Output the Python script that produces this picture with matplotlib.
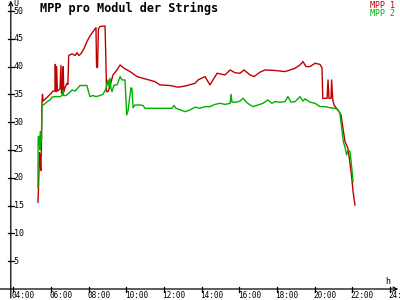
import matplotlib
matplotlib.use("Agg")
import matplotlib.pyplot as plt

# MPP 1 (red) - time in hours, voltage in V
mpp1_t = [5.31, 5.34, 5.39, 5.43, 5.46, 5.49, 5.52, 5.55, 5.58, 5.74, 5.95, 6.11,
          6.21, 6.23, 6.26, 6.30, 6.34, 6.48, 6.53, 6.56, 6.61, 6.65, 6.68, 6.74,
          6.85, 6.90, 6.94, 7.12, 7.28, 7.38, 7.49, 7.59, 7.75, 7.91, 8.07, 8.28,
          8.39, 8.42, 8.47, 8.52, 8.60, 8.76, 8.87, 8.91, 8.95, 9.03, 9.13, 9.29,
          9.51, 9.67, 9.88, 10.20, 10.57, 10.99, 11.52, 11.79, 12.32, 12.75, 13.12,
          13.65, 13.81, 14.18, 14.44, 14.82, 15.24, 15.51, 15.77, 16.04, 16.25,
          16.57, 16.78, 17.10, 17.36, 17.89, 18.43, 18.96, 19.22, 19.38, 19.54,
          19.75, 20.02, 20.28, 20.39, 20.43, 20.66, 20.71, 20.76, 20.87, 20.90,
          20.96, 21.03, 21.29, 21.40, 21.50, 21.61, 21.77, 21.88, 21.97, 22.04, 22.14]
mpp1_v = [15.6, 18.5, 24.5, 23.0, 21.3, 25.0, 33.5, 35.0, 33.8, 34.3, 35.0, 35.6,
          35.6, 40.4, 35.5, 40.0, 35.6, 36.0, 40.2, 35.2, 36.0, 40.0, 35.5, 36.2,
          37.0, 36.8, 42.0, 42.3, 42.0, 42.5, 42.0, 42.3, 43.2, 44.5, 45.5, 46.5,
          47.0, 40.0, 39.8, 46.8, 47.2, 47.3, 47.3, 42.0, 35.5, 35.5, 36.4, 38.5,
          39.4, 40.3, 39.7, 39.1, 38.2, 37.8, 37.3, 36.7, 36.6, 36.3, 36.5,
          37.0, 37.6, 38.2, 36.7, 38.8, 38.5, 39.4, 38.9, 38.8, 39.4,
          38.5, 38.2, 39.0, 39.4, 39.3, 39.1, 39.7, 40.3, 40.9, 40.0,
          40.0, 40.6, 40.4, 39.8, 34.3, 34.3, 37.6, 34.3, 34.3, 37.6,
          34.0, 33.1, 31.9, 31.3, 29.0, 26.5, 25.3, 22.5, 20.0, 17.5, 15.1]

# MPP 2 (green)
mpp2_t = [5.31, 5.32, 5.36, 5.39, 5.42, 5.44, 5.47, 5.50, 5.52, 5.63, 5.74, 5.84,
          5.95, 6.05, 6.21, 6.48, 6.59, 6.64, 6.67, 6.80, 7.01, 7.12, 7.28, 7.44,
          7.54, 7.75, 7.91, 7.97, 8.07, 8.23, 8.39, 8.60, 8.76, 8.92, 9.03, 9.08,
          9.13, 9.19, 9.24, 9.35, 9.51, 9.67, 9.77, 9.93, 10.02, 10.09, 10.20,
          10.25, 10.30, 10.36, 10.46, 10.73, 10.89, 10.99, 11.79, 12.42, 12.53,
          12.64, 13.12, 13.38, 13.65, 13.91, 14.18, 14.44, 14.71, 14.97, 15.24,
          15.51, 15.56, 15.61, 15.82, 16.04, 16.20, 16.41, 16.57, 16.73, 16.99,
          17.26, 17.51, 17.73, 17.89, 18.16, 18.43, 18.58, 18.74, 18.96, 19.22,
          19.38, 19.49, 19.75, 20.02, 20.28, 20.55, 20.81, 21.08, 21.24, 21.34,
          21.52, 21.61, 21.70, 21.77, 21.88, 21.97, 22.04]
mpp2_v = [18.3, 27.3, 27.5, 26.0, 25.0, 28.3, 26.5, 27.0, 33.0, 33.2, 33.5, 33.8,
          34.0, 34.5, 34.6, 34.6, 34.8, 35.8, 34.8, 34.8, 35.4, 35.8, 35.6, 36.2,
          36.6, 36.6, 36.6, 35.8, 34.6, 34.8, 34.6, 34.8, 35.0, 36.0, 37.6, 36.4,
          37.9, 36.0, 35.5, 36.7, 36.7, 38.2, 37.6, 37.6, 31.3, 32.0, 35.0,
          36.2, 36.0, 32.6, 33.1, 33.1, 33.0, 32.5, 32.5, 32.5, 33.0,
          32.5, 31.9, 32.2, 32.7, 32.5, 32.8, 32.8, 33.2, 33.4, 33.2,
          33.4, 35.0, 33.6, 33.6, 33.8, 34.3, 33.5, 33.1, 32.8, 33.1,
          33.4, 34.0, 33.4, 33.7, 33.6, 33.7, 34.6, 33.6, 33.7, 34.6,
          33.8, 34.2, 33.6, 33.4, 32.8, 32.8, 32.6, 32.5, 32.2, 31.6,
          26.5, 25.5, 24.1, 25.0, 24.7, 21.8, 19.3]

x_ticks = [4, 6, 8, 10, 12, 14, 16, 18, 20, 22, 24]
x_labels = ["04:00", "06:00", "08:00", "10:00", "12:00", "14:00",
            "16:00", "18:00", "20:00", "22:00", "24:"]
y_ticks = [5, 10, 15, 20, 25, 30, 35, 40, 45, 50]

RED = "#c00000"
GREEN = "#00b000"
MONO = "DejaVu Sans Mono"

fig = plt.figure(figsize=(4, 3), dpi=100)
fig.patch.set_facecolor("white")
ax = fig.add_axes([0, 0, 1, 1])
ax.set_axis_off()

# scale: 04:00 at x=13.3 px, 18.835 px per hour; 0 V at 11 px from bottom, 5.56 px per V
pxh = 18.835
pxv = 5.56
ax.set_xlim(4 - 13.3 / pxh, 4 + (400 - 13.3) / pxh)
ax.set_ylim(-11 / pxv, 50 + 11 / pxv)

ax.plot(mpp1_t, mpp1_v, color=RED, lw=1.0)
ax.plot(mpp2_t, mpp2_v, color=GREEN, lw=1.0)

# axes with arrows
x0 = 4 - 2.5 / pxh
ax.annotate("", xy=(4 + 385 / pxh, 0), xytext=(4 - 13.3 / pxh, 0),
            arrowprops=dict(arrowstyle="->", color="black", lw=0.9,
                            shrinkA=0, shrinkB=0, mutation_scale=7))
ax.annotate("", xy=(x0, 50 + 10.5 / pxv), xytext=(x0, -9 / pxv),
            arrowprops=dict(arrowstyle="->", color="black", lw=0.9,
                            shrinkA=0, shrinkB=0, mutation_scale=7))

for t, lab in zip(x_ticks, x_labels):
    ax.plot([t, t], [-3 / pxv, 2 / pxv], color="black", lw=0.9)
    ax.text(t - 1.5 / pxh, -7 / pxv, lab, fontsize=5.6, family=MONO,
            ha="left", va="center")
for v in y_ticks:
    ax.plot([x0 - 3 / pxh, x0 + 3 / pxh], [v, v], color="black", lw=0.9)
    ax.text(x0 + 3 / pxh, v, str(v), fontsize=6, family=MONO,
            ha="left", va="center")

ax.text(x0 + 3 / pxh, 50 + 8 / pxv, "U", fontsize=6, family=MONO,
        ha="left", va="center")
ax.text(4 + 374 / pxh, 8 / pxv, "h", fontsize=6, family=MONO,
        ha="center", va="center")

fig.text(40 / 400, 1 - 2 / 300, "MPP pro Modul der Strings", fontsize=8.6,
         family=MONO, fontweight="bold", ha="left", va="top")
fig.text(395 / 400, 1 - 5.5 / 300, "MPP 1", fontsize=6, family=MONO,
         color=RED, ha="right", va="center")
fig.text(395 / 400, 1 - 13.5 / 300, "MPP 2", fontsize=6, family=MONO,
         color=GREEN, ha="right", va="center")

fig.savefig("out.png", dpi=100, facecolor="white")
